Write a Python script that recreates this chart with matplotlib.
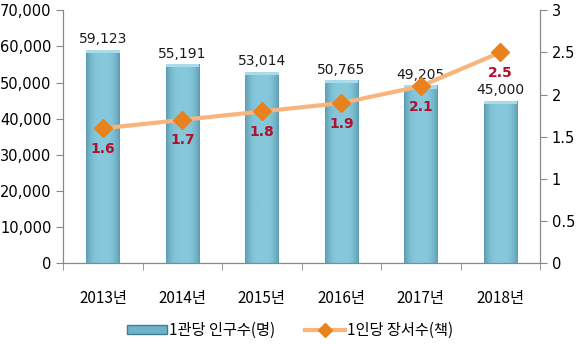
import matplotlib.pyplot as plt
import numpy as np
from matplotlib.lines import Line2D
from matplotlib.patches import Patch
from matplotlib.colors import LinearSegmentedColormap

plt.rcParams['font.family'] = ['Noto Sans CJK KR', 'DejaVu Sans']

years = ['2013년', '2014년', '2015년', '2016년', '2017년', '2018년']
population = [59123, 55191, 53014, 50765, 49205, 45000]
books = [1.6, 1.7, 1.8, 1.9, 2.1, 2.5]
pop_labels = ['59,123', '55,191', '53,014', '50,765', '49,205', '45,000']

fig = plt.figure(figsize=(5.8, 3.44), dpi=100)
ax = fig.add_axes([0.109, 0.235, 0.822, 0.735])
ax2 = ax.twinx()

x = np.arange(len(years))
bw = 0.42
bars = ax.bar(x, population, width=bw, color='#7cc0d4', edgecolor='none', zorder=2)

# horizontal gradient for a rounded look
grad = np.linspace(0, 1, 64)
shade = 1 - 0.6 * np.abs(2 * grad - 1) ** 3
shade = np.vstack([shade, shade])
cmap = LinearSegmentedColormap.from_list('b', ['#3f7f94', '#86c8dc'])
for b in bars:
    x0, y0 = b.get_x(), b.get_y()
    im = ax.imshow(shade, cmap=cmap, aspect='auto', vmin=0, vmax=1,
                   extent=[x0, x0 + b.get_width(), y0, y0 + b.get_height()],
                   zorder=2.1)
    im.set_clip_path(b)
    ax.fill_between([x0, x0 + b.get_width()], b.get_height() - 1000, b.get_height(),
                    color='#a9dcea', zorder=2.2, lw=0)

for xi, v, lab in zip(x, population, pop_labels):
    ax.text(xi, v + 900, lab, ha='center', va='bottom', fontsize=10,
            family=['DejaVu Sans'], color='#1a1a1a')

ax.set_xlim(-0.5, len(years) - 0.5)
ax.set_ylim(0, 70000)
ax.set_yticks(range(0, 70001, 10000))
ax.set_yticklabels([f'{v:,}' for v in range(0, 70001, 10000)],
                   family=['DejaVu Sans'], fontsize=10.5)
ax.set_xticks(x)
ax.set_xticklabels(years, fontsize=11)
ax.set_xticks(np.arange(-0.5, len(years)), minor=True)
ax.tick_params(axis='x', which='major', length=0, pad=19)
ax.tick_params(axis='x', which='minor', length=5, color='#888888')
ax.tick_params(axis='y', length=5, color='#888888')

ax2.plot(x, books, color='#f8b47c', lw=3, zorder=3)
ax2.plot(x, books, ls='none', marker='D', ms=9, color='#e8821f', zorder=4)
for xi, v in zip(x, books):
    ax2.text(xi, v - 0.16, f'{v}', ha='center', va='top', fontsize=10,
             fontweight='bold', color='#b0102e', family=['DejaVu Sans'])
ax2.set_ylim(0, 3)
ax2.set_yticks([0, 0.5, 1, 1.5, 2, 2.5, 3])
ax2.set_yticklabels(['0', '0.5', '1', '1.5', '2', '2.5', '3'],
                    family=['DejaVu Sans'], fontsize=10.5)
ax2.tick_params(axis='y', length=5, color='#888888')

for a in (ax, ax2):
    a.spines['top'].set_visible(False)
    for s in ('left', 'right', 'bottom'):
        a.spines[s].set_color('#888888')

handles = [Patch(facecolor='#6fb3c8', edgecolor='#3f7f94'),
           Line2D([], [], color='#f8b47c', lw=3, marker='D', ms=7,
                  markerfacecolor='#e8821f', markeredgecolor='#e8821f')]
fig.legend(handles, ['1관당 인구수(명)', '1인당 장서수(책)'], loc='lower center',
           bbox_to_anchor=(0.5, -0.025), ncol=2, frameon=False, fontsize=11,
           handlelength=2.6, handleheight=0.5, handletextpad=0.1,
           columnspacing=2.0)

fig.savefig('out.png', dpi=100)
